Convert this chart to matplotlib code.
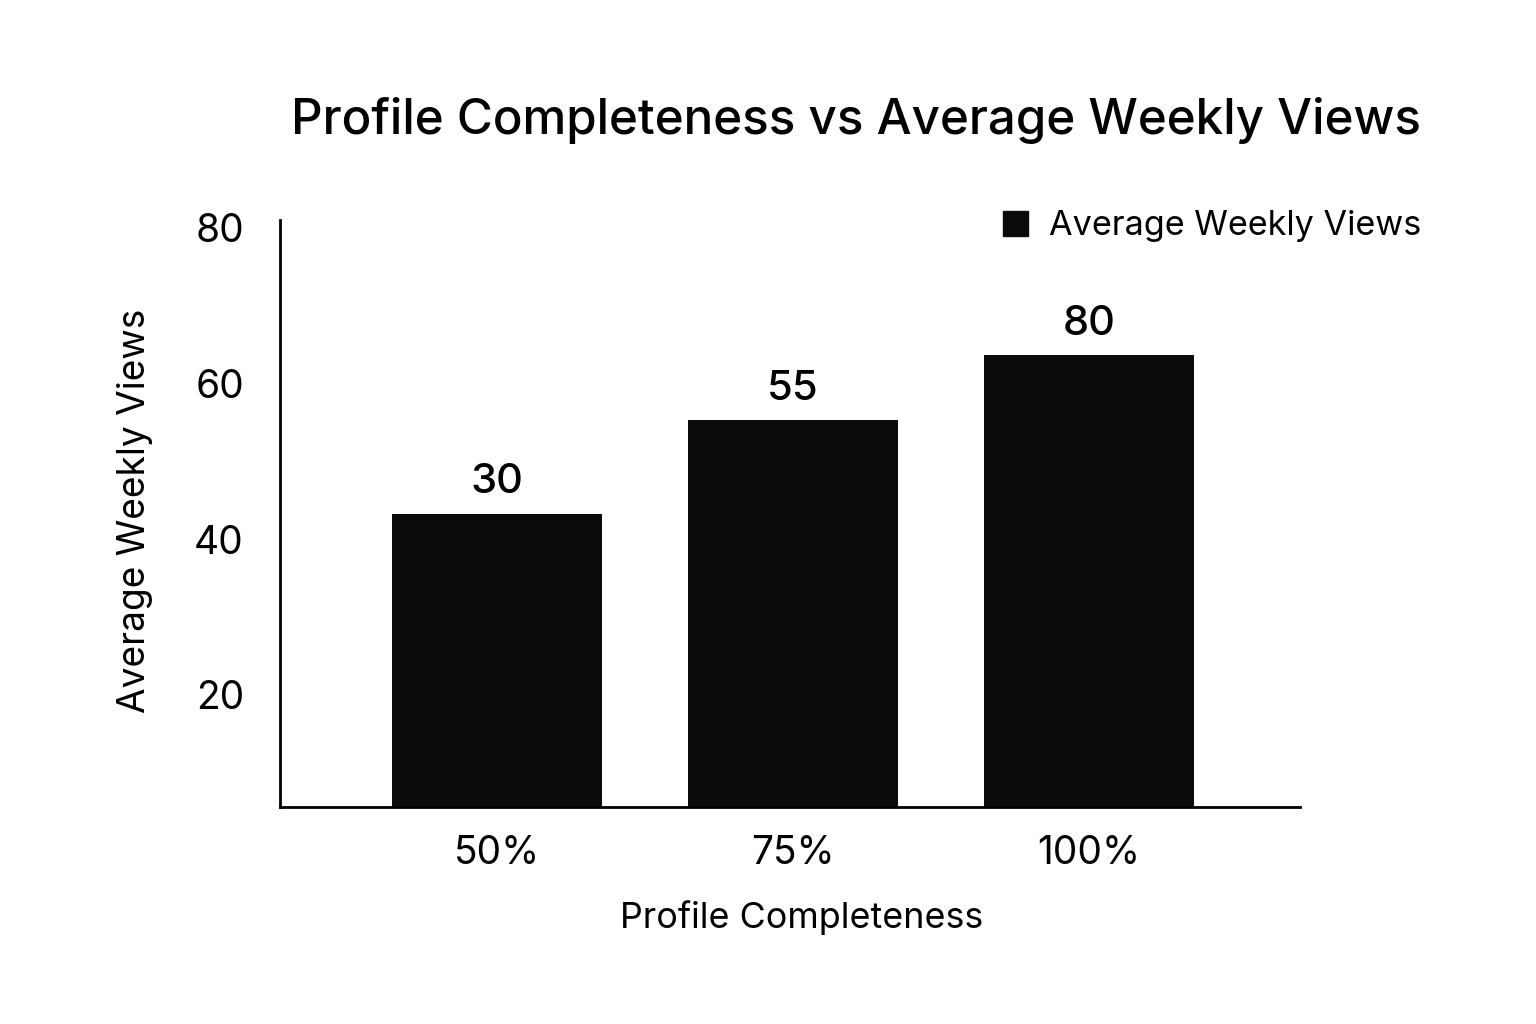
import matplotlib.pyplot as plt
from matplotlib.patches import Patch

plt.rcParams['font.family'] = ['Inter', 'DejaVu Sans']

categories = ["50%", "75%", "100%"]
bar_heights = [43.3, 55.3, 63.6]  # drawn heights as seen on the axis
bar_labels = ["30", "55", "80"]   # printed numbers above bars
y_ticks = [20, 40, 60, 80]

fig = plt.figure(figsize=(15.36, 10.24), dpi=100)
ax = fig.add_axes([280/1536, 1 - 807/1024, 1020/1536, (807-220)/1024])

x = range(len(categories))
bars = ax.bar(x, bar_heights, width=0.71, color="#0b0b0b", label="Average Weekly Views")

for b, lab in zip(bars, bar_labels):
    ax.text(b.get_x() + b.get_width()/2, b.get_height() + 1.6, lab,
            ha="center", va="bottom", fontsize=30, fontweight="medium")

ax.set_xlim(-0.733, 2.713)
ax.set_ylim(5.6, 81)
ax.set_xticks(list(x))
ax.set_xticklabels(categories, fontsize=28)
ax.set_yticks(y_ticks)
ax.set_yticklabels([str(t) for t in y_ticks], fontsize=28)
ax.tick_params(length=0)
ax.tick_params(axis="y", pad=26)
ax.tick_params(axis="x", pad=20)

for s in ["top", "right"]:
    ax.spines[s].set_visible(False)
ax.spines["left"].set_linewidth(2)
ax.spines["bottom"].set_linewidth(2)

fig.text(135/1536, 1 - 511/1024, "Average Weekly Views", rotation=90,
         ha="center", va="center", fontsize=26.7)
fig.text(802/1536, 1 - 918/1024, "Profile Completeness",
         ha="center", va="center", fontsize=25.8)
fig.text(856/1536, 1 - 120/1024, "Profile Completeness vs Average Weekly Views",
         ha="center", va="center", fontsize=35.5, fontweight="medium")

handle = Patch(color="#0b0b0b")
fig.legend([handle], ["Average Weekly Views"], loc="center right",
           bbox_to_anchor=(1452/1536, 1 - 226/1024), frameon=False,
           fontsize=24.6, handlelength=0.75, handleheight=0.75, handletextpad=0.6)

fig.savefig("out.png", dpi=100)
